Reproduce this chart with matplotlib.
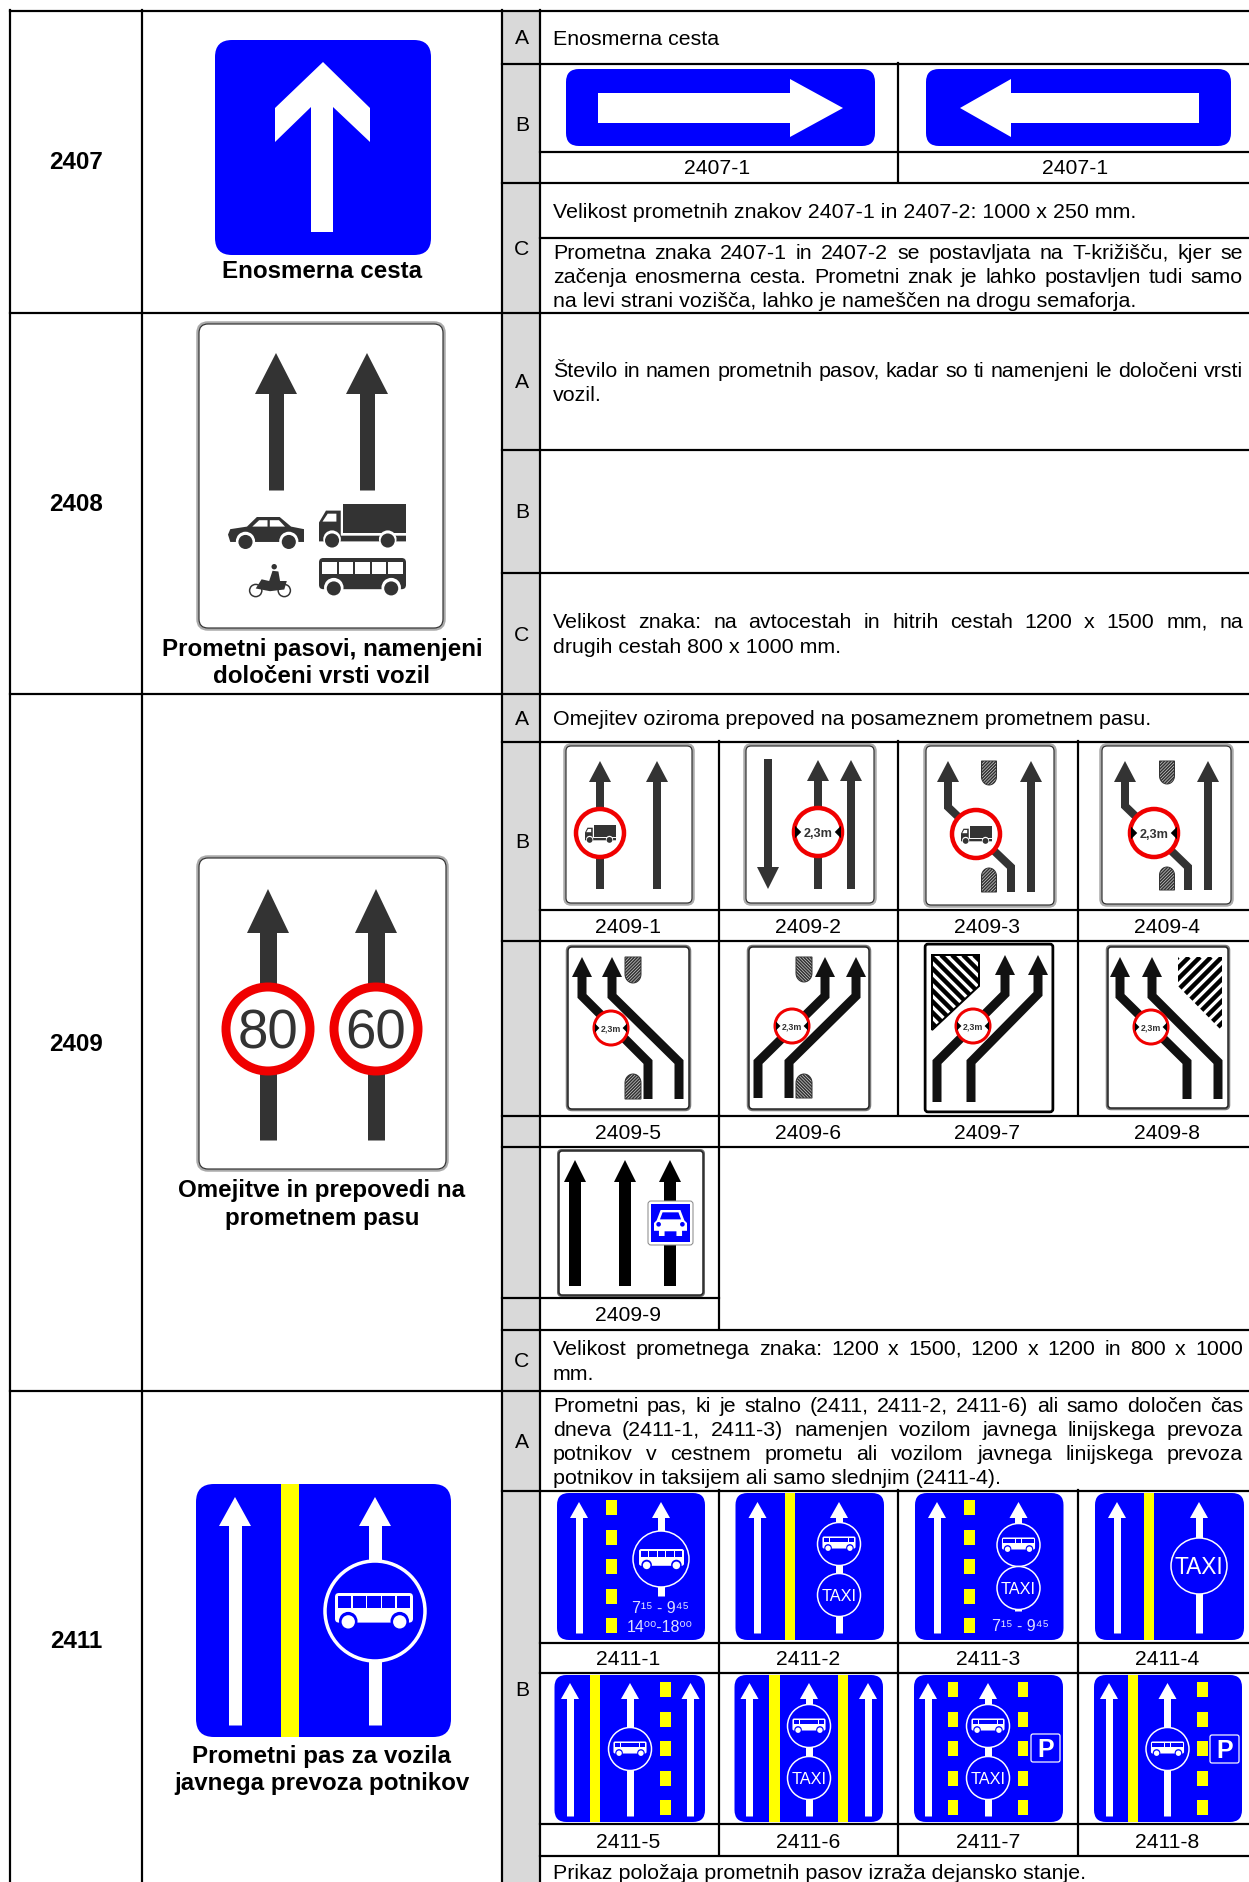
#!/usr/bin/env python3
"""Page of a Slovenian road sign table: 2407, 2408, 2409 and 2411."""
import numpy as np
import matplotlib
matplotlib.use("Agg")
import matplotlib.pyplot as plt
from matplotlib import font_manager
from matplotlib.patches import Circle, FancyBboxPatch, PathPatch, Polygon, Rectangle
from matplotlib.path import Path

plt.rcParams["font.family"] = ["Liberation Sans", "DejaVu Sans"]

BLUE = "#0000FF"
YELLOW = "#FFFF00"
GRAY = "#D9D9D9"
DARK = "#333333"
RED = "#F00000"
PX = 0.72  # one pixel in points at dpi 100
FS = 15.4
FS_LABEL = 15.2
FS_BOLD = 17.4

# condensed lettering on the signs, if the narrow cut is installed
HAS_NARROW = any(f.name == "Liberation Sans Narrow" for f in font_manager.fontManager.ttflist)
NARROW = ["Liberation Sans Narrow", "DejaVu Sans"] if HAS_NARROW else ["Liberation Sans", "DejaVu Sans"]
NARROW_K = 1.0 if HAS_NARROW else 0.82

CODES = ["2407", "2408", "2409", "2411"]
CAPTIONS = [["Enosmerna cesta"],
            ["Prometni pasovi, namenjeni", "določeni vrsti vozil"],
            ["Omejitve in prepovedi na", "prometnem pasu"],
            ["Prometni pas za vozila", "javnega prevoza potnikov"]]
LABELS_2407 = ["2407-1", "2407-1"]
LABELS_2409 = ["2409-1", "2409-2", "2409-3", "2409-4",
               "2409-5", "2409-6", "2409-7", "2409-8", "2409-9"]
LABELS_2411 = ["2411-1", "2411-2", "2411-3", "2411-4",
               "2411-5", "2411-6", "2411-7", "2411-8"]

TEXT_2407_A = "Enosmerna cesta"
TEXT_2407_C1 = "Velikost prometnih znakov 2407-1 in 2407-2: 1000 x 250 mm."
TEXT_2407_C2 = ["Prometna znaka 2407-1 in 2407-2 se postavljata na T-križišču, kjer se",
                "začenja enosmerna cesta. Prometni znak je lahko postavljen tudi samo",
                "na levi strani vozišča, lahko je nameščen na drogu semaforja."]
TEXT_2408_A = ["Število in namen prometnih pasov, kadar so ti namenjeni le določeni vrsti",
               "vozil."]
TEXT_2408_C = ["Velikost znaka: na avtocestah in hitrih cestah 1200 x 1500 mm, na",
               "drugih cestah 800 x 1000 mm."]
TEXT_2409_A = "Omejitev oziroma prepoved na posameznem prometnem pasu."
TEXT_2409_C = ["Velikost prometnega znaka: 1200 x 1500, 1200 x 1200 in 800 x 1000",
               "mm."]
TEXT_2411_A = ["Prometni pas, ki je stalno (2411, 2411-2, 2411-6) ali samo določen čas",
               "dneva (2411-1, 2411-3) namenjen vozilom javnega linijskega prevoza",
               "potnikov v cestnem prometu ali vozilom javnega linijskega prevoza",
               "potnikov in taksijem ali samo slednjim (2411-4)."]
TEXT_2411_C = "Prikaz položaja prometnih pasov izraža dejansko stanje."
TIME_A = "7¹⁵ - 9⁴⁵"
TIME_B = "14⁰⁰-18⁰⁰"

fig = plt.figure(figsize=(12.49, 18.83), dpi=100)
ax = fig.add_axes([0, 0, 1, 1])
ax.set_xlim(0, 1249)
ax.set_ylim(1883, 0)
ax.axis("off")
renderer = fig.canvas.get_renderer()


def put(x, y, s, size=FS, ha="left", color="black", weight="normal", family=None):
    # y is the middle of the capitals, in pixels
    return ax.text(x, y + 0.5 * size - 1, s, fontsize=size, ha=ha, va="baseline",
                   color=color, fontweight=weight, zorder=6, family=family)


def narrow(x, y, s, size, color="white", weight="normal"):
    return put(x, y, s, size=size * NARROW_K, ha="center", color=color, weight=weight, family=NARROW)


def justified(lines, ys, last_full=False, x0=553, x1=1243):
    for k, (line, y) in enumerate(zip(lines, ys)):
        if k == len(lines) - 1 and not last_full:
            put(x0, y, line)
            continue
        words = line.split()
        items = [put(x0, y, w) for w in words]
        widths = [t.get_window_extent(renderer).width for t in items]
        gap = (x1 - x0 - sum(widths)) / (len(words) - 1)
        x = x0
        for t, w in zip(items, widths):
            t.set_x(x)
            x += w + gap


def hline(y, x0=540, x1=1249):
    y += 0.5
    ax.plot([x0, x1], [y, y], color="black", lw=2.2 * PX, zorder=4, solid_capstyle="projecting")


def vline(x, y0, y1):
    ax.plot([x, x], [y0, y1], color="black", lw=2.2 * PX, zorder=4, solid_capstyle="projecting")


def rrect(x0, y0, x1, y1, r, fc, ec="none", lw=0):
    p = FancyBboxPatch((x0, y0), x1 - x0, y1 - y0, boxstyle=f"round,pad=0,rounding_size={r}",
                       fc=fc, ec=ec, lw=lw * PX)
    ax.add_patch(p)
    return p


def poly(pts, fc):
    p = Polygon(pts, closed=True, fc=fc, ec="none")
    ax.add_patch(p)
    return p


def white_sign(x0, y0, x1, y1, r=8, outer="#AAAAAA", inner=DARK, wo=3.5, wi=1.2):
    rrect(x0, y0, x1, y1, r, "white", outer, wo)
    rrect(x0 + 1, y0 + 1, x1 - 1, y1 - 1, r - 1, "white", inner, wi)


def lane(pts, head_h, head_w, shaft, color):
    # pts start at the arrow tip and run along the lane
    (tx, ty), (nx, ny) = pts[0], pts[1]
    sign = 1 if ny > ty else -1
    base = ty + sign * head_h
    poly([(tx, ty), (tx + head_w / 2, base), (tx - head_w / 2, base)], color)
    verts = [(tx, base - sign)] + list(pts[1:])
    ax.add_patch(PathPatch(Path(verts), fill=False, ec=color, lw=shaft * PX,
                           capstyle="butt", joinstyle="miter"))


def stripes(clip, x0, y0, x1, y1, step, width, slope, color="black"):
    h = y1 - y0
    verts, codes = [], []
    for off in np.arange(x0 - abs(h) - 2 * (x1 - x0), x1 + abs(h) + 2 * (x1 - x0), step):
        verts += [(off, y1), (off + slope * h, y0)]
        codes += [Path.MOVETO, Path.LINETO]
    p = PathPatch(Path(verts, codes), fill=False, ec=color, lw=width * PX, capstyle="butt")
    ax.add_patch(p)
    p.set_clip_path(clip)


def blob(cx, y0, y1, w, round_top, slope=1):
    t = np.linspace(0, np.pi, 20)
    r = w / 2
    if round_top:
        arc = [(cx - r * np.cos(a), y0 + r * 1.1 - r * 1.1 * np.sin(a)) for a in t]
        pts = [(cx - r, y1)] + arc + [(cx + r, y1)]
    else:
        arc = [(cx + r * np.cos(a), y1 - r * 1.1 + r * 1.1 * np.sin(a)) for a in t]
        pts = [(cx + r, y0)] + arc + [(cx - r, y0)]
    base = Polygon(pts, closed=True, fc="#D8D8D8", ec="none")
    ax.add_patch(base)
    stripes(base, cx - r, y0, cx + r, y1, 3.2, 1.6, slope, DARK)
    ax.add_patch(Polygon(pts, closed=True, fill=False, ec=DARK, lw=1 * PX))


def bus(x0, y0, x1, y1, fg, bg):
    w, h = x1 - x0, y1 - y0
    rrect(x0, y0, x1, y0 + 0.8 * h, 0.05 * w, fg)
    n = 5
    gap = 0.02 * w
    cw = (0.92 * w - (n - 1) * gap) / n
    for i in range(n):
        left = x0 + 0.04 * w + i * (cw + gap)
        ax.add_patch(Rectangle((left, y0 + 0.09 * h), cw, 0.31 * h, fc=bg, ec="none"))
    for fx in (0.17, 0.83):
        ax.add_patch(Circle((x0 + fx * w, y0 + 0.76 * h), 0.25 * h, fc=bg, ec="none"))
        ax.add_patch(Circle((x0 + fx * w, y0 + 0.78 * h), 0.18 * h, fc=fg, ec="none"))


def truck(x0, y0, x1, y1, fg, bg):
    w, h = x1 - x0, y1 - y0
    ax.add_patch(Rectangle((x0 + 0.28 * w, y0), 0.72 * w, 0.65 * h, fc=fg, ec="none"))
    poly([(x0, y0 + 0.42 * h), (x0 + 0.08 * w, y0 + 0.15 * h), (x0 + 0.25 * w, y0 + 0.15 * h),
          (x0 + 0.25 * w, y0 + 0.72 * h), (x1, y0 + 0.72 * h), (x1, y0 + 0.85 * h),
          (x0, y0 + 0.85 * h)], fg)
    poly([(x0 + 0.04 * w, y0 + 0.4 * h), (x0 + 0.1 * w, y0 + 0.22 * h),
          (x0 + 0.2 * w, y0 + 0.22 * h), (x0 + 0.2 * w, y0 + 0.4 * h)], bg)
    for fx in (0.15, 0.79):
        ax.add_patch(Circle((x0 + fx * w, y0 + 0.8 * h), 0.2 * h, fc=bg, ec="none"))
        ax.add_patch(Circle((x0 + fx * w, y0 + 0.83 * h), 0.16 * h, fc=fg, ec="none"))


def car(x0, y0, x1, y1, fg, bg):
    w, h = x1 - x0, y1 - y0
    poly([(x0, y0 + 0.55 * h), (x0 + 0.03 * w, y0 + 0.38 * h), (x0 + 0.25 * w, y0 + 0.3 * h),
          (x0 + 0.38 * w, y0), (x0 + 0.68 * w, y0), (x0 + 0.83 * w, y0 + 0.3 * h),
          (x1, y0 + 0.38 * h), (x1, y0 + 0.78 * h), (x0 + 0.03 * w, y0 + 0.78 * h)], fg)
    poly([(x0 + 0.32 * w, y0 + 0.3 * h), (x0 + 0.41 * w, y0 + 0.1 * h), (x0 + 0.52 * w, y0 + 0.1 * h),
          (x0 + 0.52 * w, y0 + 0.3 * h)], bg)
    poly([(x0 + 0.55 * w, y0 + 0.3 * h), (x0 + 0.55 * w, y0 + 0.1 * h), (x0 + 0.67 * w, y0 + 0.1 * h),
          (x0 + 0.75 * w, y0 + 0.3 * h)], bg)
    for fx in (0.23, 0.8):
        ax.add_patch(Circle((x0 + fx * w, y0 + 0.76 * h), 0.3 * h, fc=bg, ec="none"))
        ax.add_patch(Circle((x0 + fx * w, y0 + 0.78 * h), 0.22 * h, fc=fg, ec="none"))


def moto(x0, y0, x1, y1, fg):
    w, h = x1 - x0, y1 - y0
    for fx in (0.16, 0.84):
        ax.add_patch(Circle((x0 + fx * w, y0 + 0.78 * h), 0.18 * h, fc="white", ec=fg, lw=1.5 * PX))
    poly([(x0 + 0.16 * w, y0 + 0.72 * h), (x0 + 0.3 * w, y0 + 0.45 * h), (x0 + 0.48 * w, y0 + 0.5 * h),
          (x0 + 0.56 * w, y0 + 0.2 * h), (x0 + 0.7 * w, y0 + 0.22 * h), (x0 + 0.74 * w, y0 + 0.5 * h),
          (x0 + 0.9 * w, y0 + 0.5 * h), (x0 + 0.84 * w, y0 + 0.75 * h), (x0 + 0.5 * w, y0 + 0.8 * h)], fg)
    ax.add_patch(Circle((x0 + 0.6 * w, y0 + 0.08 * h), 0.08 * h, fc=fg, ec="none"))


def front_car(x0, y0, x1, y1, fg, bg):
    w, h = x1 - x0, y1 - y0
    poly([(x0 + 0.2 * w, y0), (x0 + 0.8 * w, y0), (x0 + 0.92 * w, y0 + 0.4 * h), (x1, y0 + 0.5 * h),
          (x1, y0 + 0.8 * h), (x0 + 0.85 * w, y0 + 0.8 * h), (x0 + 0.85 * w, y1),
          (x0 + 0.68 * w, y1), (x0 + 0.68 * w, y0 + 0.82 * h), (x0 + 0.32 * w, y0 + 0.82 * h),
          (x0 + 0.32 * w, y1), (x0 + 0.15 * w, y1), (x0 + 0.15 * w, y0 + 0.8 * h), (x0, y0 + 0.8 * h),
          (x0, y0 + 0.5 * h), (x0 + 0.08 * w, y0 + 0.4 * h)], fg)
    poly([(x0 + 0.26 * w, y0 + 0.09 * h), (x0 + 0.74 * w, y0 + 0.09 * h), (x0 + 0.82 * w, y0 + 0.36 * h),
          (x0 + 0.18 * w, y0 + 0.36 * h)], bg)
    for fx in (0.14, 0.86):
        ax.add_patch(Circle((x0 + fx * w, y0 + 0.55 * h), 0.07 * w, fc=bg, ec="none"))


def red_ring(cx, cy, r, lw=4.5):
    ax.add_patch(Circle((cx, cy), r, fc="white", ec=RED, lw=lw * PX))


def limit(cx, cy, r, lw=4.5):
    red_ring(cx, cy, r, lw)
    s = r * 0.26
    poly([(cx - r + 1, cy - s), (cx - r + 1 + s, cy), (cx - r + 1, cy + s)], "black")
    poly([(cx + r - 1, cy - s), (cx + r - 1 - s, cy), (cx + r - 1, cy + s)], "black")
    narrow(cx, cy, "2,3m", r * 0.46, DARK, "bold")


def no_truck(cx, cy, r=24):
    red_ring(cx, cy, r)
    truck(cx - 15, cy - 8, cx + 16, cy + 10, DARK, "white")


def blue_sign(x0, y0, x1, y1, r=12):
    rrect(x0, y0, x1, y1, r, BLUE)


def bus_disc(cx, cy, r=21.5):
    ax.add_patch(Circle((cx, cy), r, fc=BLUE, ec="white", lw=1.5 * PX))
    bus(cx - 0.77 * r, cy - 0.35 * r, cx + 0.77 * r, cy + 0.35 * r, "white", BLUE)


def taxi_disc(cx, cy, r=21.5):
    ax.add_patch(Circle((cx, cy), r, fc=BLUE, ec="white", lw=1.5 * PX))
    narrow(cx, cy, "TAXI", r * 0.67)


def white_lane(cx, tip=1503, bottom=1634):
    lane([(cx, tip), (cx, bottom)], 16, 18, 7, "white")


def yellow_bar(x0, x1, y0, y1):
    ax.add_patch(Rectangle((x0, y0), x1 - x0, y1 - y0, fc=YELLOW, ec="none"))


def dashes(x0, x1, y0, y1, step=29.6, height=15):
    for k in range(5):
        yellow_bar(x0, x1, y0 + k * step, y0 + k * step + height)


def p_sign(x0, y0, x1, y1):
    rrect(x0, y0, x1, y1, 2, BLUE, "white", 1.2)
    put((x0 + x1) / 2, (y0 + y1) / 2, "P", size=18, ha="center", color="white", weight="bold")


# ---- grey letter column and grid ----
ax.add_patch(Rectangle((502, 11), 38, 1872, fc=GRAY, ec="none", zorder=0))
hline(11, 10)
for y in (313, 694, 1391):
    hline(y, 10)
for y in (64, 183, 450, 573, 742, 941, 1116, 1147, 1330, 1491):
    hline(y, 502)
hline(1298, 502, 719)
for y in (152, 238, 910, 1643, 1673, 1824, 1856):
    hline(y)
for x in (10, 142, 502, 540):
    vline(x, 11, 1883)
vline(898, 64, 183)
for x in (719, 898, 1078):
    vline(x, 742, 1116)
    vline(x, 1491, 1856)
vline(719, 1116, 1330)

# ---- left columns ----
for code, y in zip(CODES, (161, 503, 1043, 1640)):
    put(76, y, code, size=FS_BOLD, ha="center", weight="bold")
for lines, ys in zip(CAPTIONS, ([270], [648, 675], [1189, 1217], [1755, 1782])):
    for line, y in zip(lines, ys):
        put(322, y, line, size=FS_BOLD, ha="center", weight="bold")

# ---- letters ----
for s, y in zip("ABCABCABCAB", (37, 124, 248, 381, 511, 634, 718, 841, 1360, 1441, 1689)):
    put(522, y, s, size=FS_LABEL, ha="center")

# ---- text cells ----
put(553, 38, TEXT_2407_A)
put(553, 211, TEXT_2407_C1)
justified(TEXT_2407_C2, (252, 276, 300))
justified(TEXT_2408_A, (370, 394))
justified(TEXT_2408_C, (621, 646))
put(553, 718, TEXT_2409_A)
justified(TEXT_2409_C, (1348, 1373))
justified(TEXT_2411_A, (1405, 1429, 1453, 1477))
put(553, 1872, TEXT_2411_C)

# ---- cell labels ----
for s, x in zip(LABELS_2407, (717, 1075)):
    put(x, 167, s, size=FS_LABEL, ha="center")
for s, x, y in zip(LABELS_2409, (628, 808, 987, 1167) * 2 + (628,), [926] * 4 + [1132] * 4 + [1314]):
    put(x, y, s, size=FS_LABEL, ha="center")
for s, x, y in zip(LABELS_2411, (628, 808, 988, 1167) * 2, [1658] * 4 + [1841] * 4):
    put(x, y, s, size=FS_LABEL, ha="center")

# ---- 2407 ----
rrect(215, 41, 431, 256, 17, BLUE)
poly([(323, 63), (370, 109), (370, 143), (333, 108), (333, 233), (311, 233),
      (311, 108), (275, 143), (275, 109)], "white")
rrect(566, 70, 875, 147, 13, BLUE)
poly([(598, 94), (790, 94), (790, 80), (843, 109), (790, 138), (790, 124), (598, 124)], "white")
rrect(926, 70, 1231, 147, 13, BLUE)
poly([(1199, 94), (1011, 94), (1011, 80), (960, 109), (1011, 138), (1011, 124), (1199, 124)], "white")

# ---- 2408 ----
white_sign(198, 324, 444, 630, 10)
for cx in (276, 367):
    lane([(cx, 354), (cx, 491)], 41, 42, 15, DARK)
car(228, 518, 304, 550, DARK, "white")
truck(319, 505, 406, 549, DARK, "white")
moto(249, 565, 291, 599, DARK)
bus(319, 559, 406, 598, DARK, "white")

# ---- 2409 main ----
white_sign(198, 858, 447, 1171, 10)
for cx, s in zip((268, 376), ("80", "60")):
    lane([(cx, 890), (cx, 1141)], 44, 42, 17, DARK)
    red_ring(cx, 1030, 42, 9)
    narrow(cx, 1030, s, 48, DARK)

# ---- 2409 small signs, first row ----
white_sign(565, 746, 693, 905, 6)
lane([(600, 762), (600, 890)], 21, 22, 8, DARK)
lane([(657, 762), (657, 890)], 21, 22, 8, DARK)
no_truck(600, 834)

white_sign(745, 746, 875, 905, 6)
lane([(768, 890), (768, 760)], 22, 22, 8, DARK)
lane([(818, 761), (818, 890)], 21, 22, 8, DARK)
lane([(851, 761), (851, 890)], 21, 22, 8, DARK)
limit(818, 833, 24)

white_sign(925, 746, 1055, 907, 6)
lane([(948, 762), (948, 808), (1011, 868), (1011, 893)], 21, 22, 8, DARK)
lane([(1031, 762), (1031, 893)], 21, 22, 8, DARK)
blob(989, 762, 786, 15, False)
blob(989, 869, 893, 15, True)
no_truck(976, 835)

white_sign(1101, 746, 1232, 906, 6)
lane([(1125, 762), (1125, 807), (1188, 868), (1188, 891)], 21, 22, 8, DARK)
lane([(1208, 762), (1208, 891)], 21, 22, 8, DARK)
blob(1167, 762, 785, 15, False)
blob(1167, 868, 891, 15, True)
limit(1154, 834, 24)

# ---- 2409 small signs, second row ----
white_sign(567, 947, 690, 1111, 5, "#777777", "#222222", 2.5, 1.5)
lane([(582, 958), (582, 997), (648, 1063), (648, 1100)], 20, 20, 9, "#111111")
lane([(612, 958), (612, 997), (679, 1063), (679, 1100)], 20, 20, 9, "#111111")
blob(633, 958, 984, 16, False)
blob(633, 1075, 1100, 16, True)
limit(611, 1029, 17, 3)

white_sign(748, 947, 870, 1111, 5, "#777777", "#222222", 2.5, 1.5)
lane([(825, 958), (825, 997), (758, 1063), (758, 1099)], 20, 20, 9, "#111111")
lane([(856, 958), (856, 997), (789, 1063), (789, 1099)], 20, 20, 9, "#111111")
blob(804, 958, 983, 16, False, -1)
blob(804, 1075, 1099, 16, True, -1)
limit(792, 1027, 17, 3)

white_sign(925, 945, 1053, 1113, 3, "black", "black", 2.5, 1)
tri = poly([(932, 956), (979, 956), (979, 987), (932, 1031)], "white")
stripes(tri, 932, 956, 979, 1031, 11, 4.5, -1)
ax.add_patch(Polygon([(932, 956), (979, 956), (979, 987), (932, 1031)], closed=True, fill=False,
                     ec="black", lw=2 * PX))
lane([(1005, 956), (1005, 995), (937, 1063), (937, 1103)], 20, 20, 9, "#111111")
lane([(1038, 956), (1038, 995), (971, 1063), (971, 1103)], 20, 20, 9, "#111111")
limit(973, 1027, 17, 3)

white_sign(1107, 947, 1229, 1110, 4, "#777777", "#222222", 2.5, 1.5)
tri = poly([(1178, 958), (1222, 958), (1222, 1032), (1178, 987)], "white")
stripes(tri, 1178, 958, 1222, 1032, 11, 4.5, 1)
lane([(1120, 958), (1120, 997), (1187, 1063), (1187, 1100)], 20, 20, 9, "#111111")
lane([(1152, 958), (1152, 997), (1218, 1063), (1218, 1100)], 20, 20, 9, "#111111")
limit(1151, 1028, 17, 3)

# ---- 2409-9 ----
white_sign(558, 1151, 704, 1297, 4, "#666666", "#222222", 2, 1.5)
for cx in (575, 625, 670):
    lane([(cx, 1161), (cx, 1287)], 22, 22, 12, "black")
rrect(648, 1202, 693, 1246, 3, "white", "#888888", 1)
ax.add_patch(Rectangle((651, 1204.5), 39, 38.5, fc=BLUE, ec="none"))
front_car(654, 1211, 687, 1237, "white", BLUE)

# ---- 2411 main ----
blue_sign(196, 1485, 451, 1738, 18)
yellow_bar(281, 299, 1485, 1738)
lane([(235, 1498), (235, 1726)], 29, 32, 13, "white")
lane([(375, 1498), (375, 1726)], 29, 32, 13, "white")
ax.add_patch(Circle((375, 1612), 50, fc=BLUE, ec="white", lw=3.5 * PX))
bus(335, 1594, 413, 1631, "white", BLUE)

# ---- 2411 small signs, first row ----
blue_sign(557, 1494, 705, 1641)
white_lane(579)
dashes(606.5, 617, 1501, 1517)
white_lane(661, bottom=1597)
ax.add_patch(Circle((661, 1560), 28, fc=BLUE, ec="white", lw=1.5 * PX))
bus(639, 1550, 684, 1571, "white", BLUE)
narrow(661, 1608, TIME_A, 14, "#DDE0FF")
narrow(660, 1627, TIME_B, 14, "#DDE0FF")

blue_sign(735.5, 1494, 884, 1641)
white_lane(757.5)
yellow_bar(785, 795, 1494, 1641)
white_lane(839)
bus_disc(839, 1545)
taxi_disc(839, 1596)

blue_sign(915, 1494, 1063.5, 1641)
white_lane(937)
dashes(964.5, 975, 1501, 1517)
white_lane(1018.5, bottom=1612)
bus_disc(1018.5, 1546)
taxi_disc(1018.5, 1589)
narrow(1021, 1626, TIME_A, 14, "#DDE0FF")

blue_sign(1095, 1494, 1244, 1641)
white_lane(1117)
yellow_bar(1144.5, 1154.5, 1494, 1641)
white_lane(1199)
ax.add_patch(Circle((1199, 1567), 28, fc=BLUE, ec="white", lw=1.5 * PX))
narrow(1199, 1567, "TAXI", 20)

# ---- 2411 small signs, second row ----
blue_sign(554.5, 1676, 705, 1823)
white_lane(570, 1684, 1817)
yellow_bar(590, 600, 1676, 1823)
white_lane(630, 1684, 1817)
bus_disc(630, 1750)
dashes(660.5, 671, 1683, 1698)
white_lane(690.5, 1684, 1817)

blue_sign(734.5, 1676, 883, 1823)
white_lane(749.5, 1684, 1817)
yellow_bar(769.5, 780, 1676, 1823)
white_lane(809, 1684, 1817)
bus_disc(809, 1727)
taxi_disc(809, 1779)
yellow_bar(838.5, 848.5, 1676, 1823)
white_lane(868, 1684, 1817)

blue_sign(914, 1676, 1063, 1823)
white_lane(928, 1684, 1817)
dashes(948.5, 958.5, 1683, 1698)
white_lane(988, 1684, 1817)
bus_disc(988, 1727)
taxi_disc(988, 1779)
dashes(1018, 1028, 1683, 1698)
p_sign(1031, 1735, 1060, 1763)

blue_sign(1094, 1676, 1242, 1823)
white_lane(1109, 1684, 1817)
yellow_bar(1128, 1138.5, 1676, 1823)
white_lane(1167.5, 1684, 1817)
bus_disc(1167.5, 1750)
dashes(1197.5, 1208, 1683, 1698)
p_sign(1210, 1736, 1239, 1764)

fig.savefig("out.png", dpi=100, facecolor="white")
